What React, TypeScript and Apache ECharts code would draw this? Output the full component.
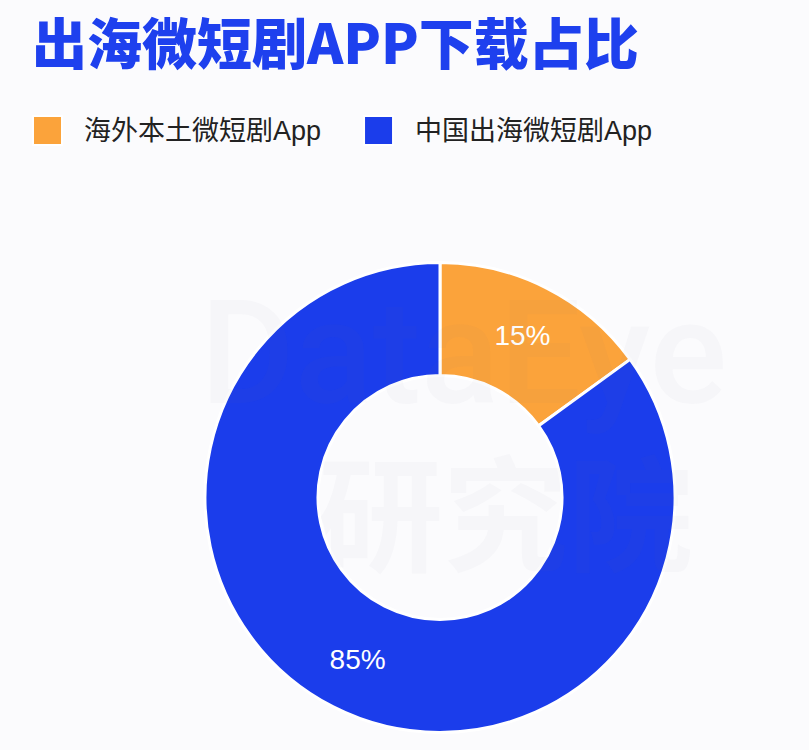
import React, { useEffect, useRef } from "react";
import * as echarts from "echarts";

const titleText = "出海微短剧APP下载占比";
const categories = ["海外本土微短剧App", "中国出海微短剧App"];
const shares = [15, 85];
const colors = ["#FBA33B", "#1B3DEB"];
const watermarkLines = ["DataEye", "研究院"];

export default function App() {
  const ref = useRef<HTMLDivElement>(null);
  useEffect(() => {
    if (!ref.current) return;
    const chart = echarts.init(ref.current, undefined, { renderer: "svg" });
    chart.setOption({
      animation: false,
      backgroundColor: "#FBFBFD",
      title: {
        text: titleText,
        left: 27,
        top: 7,
        textStyle: {
          color: "#1E40EE",
          fontSize: 55,
          fontWeight: 900,
          fontFamily: "Noto Sans CJK SC",
        },
      },
      legend: {
        left: 32,
        top: 115,
        padding: 0,
        itemWidth: 29,
        itemHeight: 29,
        itemGap: 42,
        icon: "rect",
        textStyle: {
          color: "#222",
          fontSize: 27,
          padding: [0, 0, 0, 17],
          fontFamily: "Liberation Sans, Noto Sans CJK SC",
        },
        data: categories,
      },
      graphic: [
        {
          type: "text",
          left: 200,
          top: 280,
          z: 100,
          silent: true,
          style: {
            text: watermarkLines[0],
            fontSize: 145,
            fontWeight: 500,
            fontFamily: "Roboto",
            fill: "rgba(110,115,150,0.035)",
          },
        },
        {
          type: "text",
          left: 318,
          top: 445,
          z: 100,
          silent: true,
          style: {
            text: watermarkLines[1],
            fontSize: 125,
            fontWeight: "bold",
            fontFamily: "Noto Sans CJK SC",
            fill: "rgba(110,115,150,0.035)",
          },
        },
      ],
      series: [
        {
          type: "pie",
          center: [440, 497.5],
          radius: [122, 235],
          startAngle: 90,
          clockwise: true,
          itemStyle: { borderColor: "#ffffff", borderWidth: 3 },
          label: {
            show: true,
            position: "inside",
            formatter: "{c}%",
            color: "#ffffff",
            fontSize: 28,
            fontFamily: "Liberation Sans",
          },
          labelLine: { show: false },
          emphasis: { disabled: true },
          data: categories.map((name, i) => ({
            name,
            value: shares[i],
            itemStyle: { color: colors[i] },
          })),
        },
      ],
    });
    return () => chart.dispose();
  }, []);
  return (
    <div
      ref={ref}
      style={{ position: "fixed", left: 0, top: 0, width: 809, height: 750 }}
    />
  );
}
